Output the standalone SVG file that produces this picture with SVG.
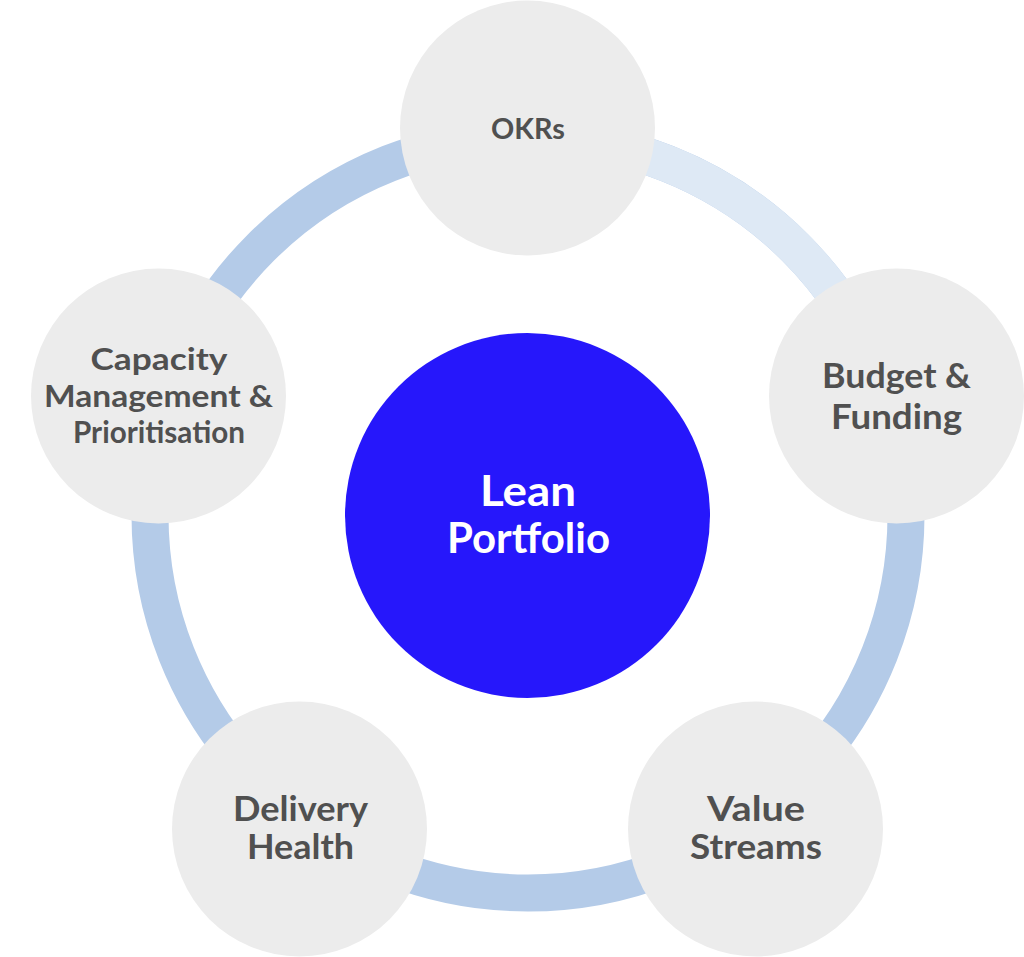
<svg xmlns="http://www.w3.org/2000/svg" width="1024" height="957" viewBox="0 0 1024 957">
<style>
.ring{fill:none;stroke-width:37}
.sat{fill:#ececec}
.t{font-family:"Lato","Open Sans",sans-serif;font-weight:700;fill:#505050;text-anchor:middle}
.c{font-family:"Lato","Open Sans",sans-serif;font-weight:700;fill:#ffffff;text-anchor:middle;font-size:42px}
</style>
<rect width="1024" height="957" fill="#ffffff"/>
<g id="connectors">
<circle class="ring" cx="528" cy="515" r="378" stroke="#b4cbe8"/>
<path class="ring" stroke="#dee9f5" d="M 528 137 A 378 378 0 0 1 887.5 398"/>
</g>
<g id="okrs"><circle class="sat" cx="527.5" cy="128" r="127.5"/><text class="t" x="528" y="139" font-size="29" textLength="74" lengthAdjust="spacingAndGlyphs">OKRs</text></g>
<g id="budget"><circle class="sat" cx="896.5" cy="396" r="127.5"/><text class="t" x="896.5" y="388" font-size="35" textLength="149" lengthAdjust="spacingAndGlyphs">Budget &amp;</text><text class="t" x="896.5" y="429" font-size="35" textLength="131" lengthAdjust="spacingAndGlyphs">Funding</text></g>
<g id="value"><circle class="sat" cx="755.5" cy="829" r="127.5"/><text class="t" x="756" y="821" font-size="35" textLength="98" lengthAdjust="spacingAndGlyphs">Value</text><text class="t" x="756" y="859" font-size="35" textLength="132" lengthAdjust="spacingAndGlyphs">Streams</text></g>
<g id="delivery"><circle class="sat" cx="299.5" cy="829" r="127.5"/><text class="t" x="300.5" y="821" font-size="35" textLength="135" lengthAdjust="spacingAndGlyphs">Delivery</text><text class="t" x="300.5" y="859" font-size="35" textLength="107" lengthAdjust="spacingAndGlyphs">Health</text></g>
<g id="capacity"><circle class="sat" cx="158.5" cy="396" r="127.5"/><text class="t" x="159" y="370" font-size="31" textLength="137" lengthAdjust="spacingAndGlyphs">Capacity</text><text class="t" x="158.5" y="407" font-size="31" textLength="229" lengthAdjust="spacingAndGlyphs">Management &amp;</text><text class="t" x="159" y="443" font-size="31" textLength="172" lengthAdjust="spacingAndGlyphs">Prioritisation</text></g>
<g id="center"><circle cx="527.5" cy="515.5" r="182.5" fill="#2617fb"/><text class="c" x="528" y="506" textLength="96" lengthAdjust="spacingAndGlyphs">Lean</text><text class="c" x="528.5" y="553" textLength="163" lengthAdjust="spacingAndGlyphs">Portfolio</text></g>
</svg>
